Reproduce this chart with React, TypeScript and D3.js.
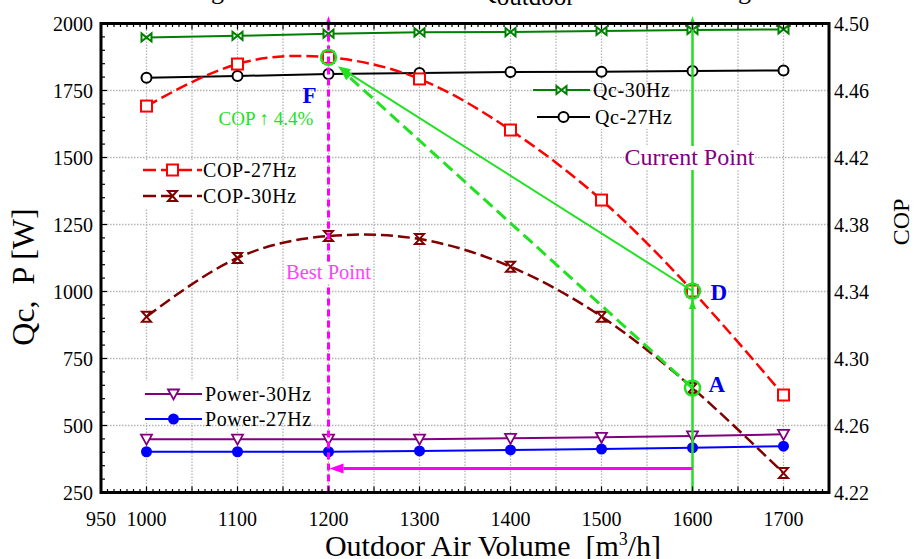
import React from "react";
import * as d3 from "d3";

// Outdoor air volume samples [m³/h]
const airVolume = [1000, 1100, 1200, 1300, 1400, 1500, 1600, 1700];
// Cooling capacity [W]
const qc30 = [1948, 1954, 1962, 1967, 1968, 1972, 1976, 1978];
const qc27 = [1798, 1804, 1812, 1815, 1819, 1820, 1823, 1825];
// Coefficient of performance
const cop27 = [4.4507, 4.4758, 4.4798, 4.4669, 4.4364, 4.3946, 4.3403, 4.2782];
const cop30 = [4.325, 4.36, 4.3731, 4.3713, 4.3548, 4.325, 4.2824, 4.2316];
// Power input [W]
const power30 = [449, 449, 449, 449, 452, 456, 461, 467];
const power27 = [402, 402, 402, 405, 409, 412, 417, 423];

const xTickLabels = [950, 1000, 1100, 1200, 1300, 1400, 1500, 1600, 1700];
const leftTickLabels = [250, 500, 750, 1000, 1250, 1500, 1750, 2000];
const rightTickLabels = [4.22, 4.26, 4.3, 4.34, 4.38, 4.42, 4.46, 4.5];

const bestVolume = 1200;
const currentVolume = 1600;
const shiftPower = 340; // level of the operating-point shift arrow [W]
const arrowTarget = { x: 1210, cop: 4.4745 };
const copGainText = "COP \u2191 4.4%";

const W = 915;
const H = 559;
const L = 101;
const R = 829;
const T = 23.5;
const B = 492.5;

const FONT = "'Liberation Serif', 'Times New Roman', serif";
const LIME = "#22e022";
const MAGENTA = "#ff00ff";

const x = d3.scaleLinear().domain([950, 1750]).range([L, R]);
const yL = d3.scaleLinear().domain([250, 2000]).range([B, T]);
const yR = d3.scaleLinear().domain([4.22, 4.5]).range([B, T]);

const arrowHead = (x1: number, y1: number, x2: number, y2: number, len = 12, hw = 4.5) => {
  const a = Math.atan2(y2 - y1, x2 - x1);
  const bx = x2 - len * Math.cos(a);
  const by = y2 - len * Math.sin(a);
  const px = -Math.sin(a) * hw;
  const py = Math.cos(a) * hw;
  return {
    d: `M${x2},${y2}L${bx + px},${by + py}L${bx - px},${by - py}Z`,
    bx,
    by,
  };
};

type MarkerKind = "square" | "hourglass" | "bowtie" | "circle" | "tri" | "dot";

const Marker = ({ kind, cx, cy, color }: { kind: MarkerKind; cx: number; cy: number; color: string }) => {
  const t = `translate(${cx},${cy})`;
  switch (kind) {
    case "square":
      return <rect x={cx - 5.5} y={cy - 5.5} width={11} height={11} fill="#fff" stroke={color} strokeWidth={2} />;
    case "hourglass":
      return <path transform={t} d="M-4.5,-5L4.5,-5L-4.5,5L4.5,5Z" fill="#fff" stroke={color} strokeWidth={2} />;
    case "bowtie":
      return <path transform={t} d="M-5,-4L-5,4L5,-4L5,4Z" fill="#fff" stroke={color} strokeWidth={2} />;
    case "circle":
      return <circle cx={cx} cy={cy} r={5} fill="#fff" stroke={color} strokeWidth={2} />;
    case "tri":
      return <path transform={t} d="M-5.5,-4.5L5.5,-4.5L0,5.5Z" fill="#fff" stroke={color} strokeWidth={1.8} />;
    case "dot":
      return <circle cx={cx} cy={cy} r={5.5} fill={color} />;
  }
  return null;
};

type Series = {
  name: string;
  values: number[];
  axis: "left" | "right";
  color: string;
  marker: MarkerKind;
  dash?: string;
  width: number;
  smooth: boolean;
};

const series: Series[] = [
  { name: "Power-27Hz", values: power27, axis: "left", color: "#0000ff", marker: "dot", width: 2, smooth: false },
  { name: "Power-30Hz", values: power30, axis: "left", color: "#800080", marker: "tri", width: 2, smooth: false },
  { name: "Qc-27Hz", values: qc27, axis: "left", color: "#000000", marker: "circle", width: 2, smooth: false },
  { name: "Qc-30Hz", values: qc30, axis: "left", color: "#008000", marker: "bowtie", width: 2, smooth: false },
  { name: "COP-30Hz", values: cop30, axis: "right", color: "#800000", marker: "hourglass", dash: "12,5", width: 2.5, smooth: true },
  { name: "COP-27Hz", values: cop27, axis: "right", color: "#ff0000", marker: "square", dash: "12,5", width: 2.5, smooth: true },
];

const legendGroups = [
  { box: [140, 160, 160, 48], items: [
    { name: "COP-27Hz", x0: 143, x1: 202, y: 170, tx: 203 },
    { name: "COP-30Hz", x0: 143, x1: 202, y: 196, tx: 203 },
  ] },
  { box: [530, 93, 150, 36], items: [
    { name: "Qc-30Hz", x0: 533, x1: 590, y: 90, tx: 593 },
    { name: "Qc-27Hz", x0: 537, x1: 590, y: 117, tx: 595 },
  ] },
  { box: [142, 381, 175, 42], items: [
    { name: "Power-30Hz", x0: 145, x1: 202, y: 394, tx: 205 },
    { name: "Power-27Hz", x0: 145, x1: 202, y: 419, tx: 205 },
  ] },
];

export default function App() {
  const yOf = (s: Series) => (s.axis === "left" ? yL : yR);

  // minor ticks on the horizontal axes: 7 per 50 m³/h
  const xMinor: number[] = [];
  for (let i = 0; i <= 16 * 7; i++) xMinor.push(950 + (i * 50) / 7);
  const yMinor = d3.range(250, 2001, 50);

  const fx = x(bestVolume);
  const cx = x(currentVolume);
  const fy = yR(cop27[airVolume.indexOf(bestVolume)]);
  const dy = yR(cop27[airVolume.indexOf(currentVolume)]);
  const ay = yR(cop30[airVolume.indexOf(currentVolume)]);
  const tx = x(arrowTarget.x);
  const ty = yR(arrowTarget.cop);

  const headD = arrowHead(cx, dy, tx, ty, 13, 4.5);
  const headA = arrowHead(cx, ay, tx + 2, ty + 2, 13, 4.5);
  const headUp = arrowHead(cx, ay, cx, dy + 8, 10, 3.5);
  const headGreenTop = arrowHead(cx, B, cx, 16, 9, 3);
  const headMagTop = arrowHead(fx, B, fx, 16, 9, 3);
  const sy = yL(shiftPower);
  const headShift = arrowHead(cx, sy, fx + 1, sy, 14, 5);

  const pre = { whiteSpace: "pre" as const };

  return (
    <svg width={W} height={H} style={{ position: "absolute", left: 0, top: 0, background: "#fff" }} fontFamily={FONT}>
      <rect x={0} y={0} width={W} height={H} fill="#fff" />

      {/* title line, largely above the visible area */}
      <g fill="#000" fontSize={26}>
        <text x={224} y={-1} textAnchor="end">Effect on Cooling</text>
        <text x={478} y={-1}>
          Q<tspan fontSize={25} dy={6}>outdoor</tspan>
        </text>
        <text x={751} y={-1} textAnchor="end">Setting</text>
      </g>

      {/* grid */}
      <g stroke="#b4b4b4" strokeWidth={1.3} strokeDasharray="1.5,1.5">
        {d3.range(1000, 1701, 50).map((v) => (
          <line key={"gx" + v} x1={x(v)} x2={x(v)} y1={T} y2={B} />
        ))}
        {d3.range(500, 1751, 250).map((v) => (
          <line key={"gy" + v} x1={L} x2={R} y1={yL(v)} y2={yL(v)} />
        ))}
      </g>

      {/* legend backgrounds */}
      {legendGroups.map((g, i) => (
        <rect key={"lb" + i} x={g.box[0]} y={g.box[1]} width={g.box[2]} height={g.box[3]} fill="#fff" />
      ))}

      {/* series lines */}
      {series.map((s) => {
        const line = d3
          .line<number>()
          .x((_, i) => x(airVolume[i]))
          .y((v) => yOf(s)(v))
          .curve(s.smooth ? d3.curveNatural : d3.curveLinear);
        return (
          <path key={s.name} d={line(s.values) || ""} fill="none" stroke={s.color} strokeWidth={s.width} strokeDasharray={s.dash} />
        );
      })}

      {/* series markers */}
      {series.map((s) =>
        s.values.map((v, i) => (
          <Marker key={s.name + i} kind={s.marker} cx={x(airVolume[i])} cy={yOf(s)(v)} color={s.color} />
        ))
      )}

      {/* best point: dashed vertical */}
      <line x1={fx} x2={fx} y1={B} y2={headMagTop.by} stroke={MAGENTA} strokeWidth={3} strokeDasharray="7,4" />
      <path d={headMagTop.d} fill={MAGENTA} />

      {/* current point: vertical line */}
      <line x1={cx} x2={cx} y1={B} y2={headGreenTop.by} stroke={LIME} strokeWidth={2.5} />
      <path d={headGreenTop.d} fill={LIME} />
      <path d={headUp.d} fill={LIME} />

      {/* shift arrow from current to best volume */}
      <line x1={cx} x2={headShift.bx} y1={sy} y2={sy} stroke={MAGENTA} strokeWidth={3} />
      <path d={headShift.d} fill={MAGENTA} />

      {/* paths from D and A towards F */}
      <line x1={cx} y1={dy} x2={headD.bx} y2={headD.by} stroke={LIME} strokeWidth={2} />
      <path d={headD.d} fill={LIME} />
      <line x1={cx} y1={ay} x2={headA.bx} y2={headA.by} stroke={LIME} strokeWidth={3} strokeDasharray="12,6" />
      <path d={headA.d} fill={LIME} />

      {/* highlighted operating points */}
      {[fy, dy, ay].map((yy, i) => (
        <circle key={"hp" + i} cx={i === 0 ? fx : cx} cy={yy} r={7.5} fill="none" stroke={LIME} strokeWidth={2.5} />
      ))}

      {/* annotation texts */}
      <g fontWeight="bold" fill="#0000ee" fontSize={23}>
        <text x={fx - 26} y={fy + 46}>F</text>
        <text x={cx + 18} y={dy + 9}>D</text>
        <text x={cx + 16} y={ay + 4}>A</text>
      </g>
      <text x={fx - 110} y={fy + 68} fontSize={19} fill={LIME}>{copGainText}</text>

      <rect x={fx - 44} y={262} width={88} height={22} fill="#fff" />
      <text x={fx} y={279} textAnchor="middle" fontSize={20.5} fill="#ff40ff">Best Point</text>

      <rect x={cx - 68} y={146} width={130} height={24} fill="#fff" />
      <text x={cx - 68} y={165} fontSize={24} fill="#800080">Current Point</text>

      {/* legends */}
      {legendGroups.map((g) =>
        g.items.map((it) => {
          const s = series.find((q) => q.name === it.name)!;
          const mx = (it.x0 + it.x1) / 2;
          return (
            <g key={"lg" + it.name}>
              <line x1={it.x0} x2={it.x1} y1={it.y} y2={it.y} stroke={s.color} strokeWidth={s.width}
                strokeDasharray={s.dash ? "13,5" : undefined} />
              <Marker kind={s.marker} cx={mx} cy={it.y} color={s.color} />
              <text x={it.tx} y={it.y + 7} fontSize={20} letterSpacing={0.6} fill="#000">{it.name}</text>
            </g>
          );
        })
      )}

      {/* axis ticks */}
      <g stroke="#000" strokeWidth={1.2}>
        {xMinor.map((v, i) => (
          <g key={"xt" + i}>
            <line x1={x(v)} x2={x(v)} y1={B} y2={B - (i % 7 === 0 ? 6 : 3.5)} />
            <line x1={x(v)} x2={x(v)} y1={T} y2={T + (i % 7 === 0 ? 6 : 3.5)} />
          </g>
        ))}
        {yMinor.map((v) => (
          <line key={"yt" + v} x1={L} x2={L + (v % 250 === 0 ? 6 : 4)} y1={yL(v)} y2={yL(v)} />
        ))}
      </g>

      {/* frame */}
      <rect x={L} y={T} width={R - L} height={B - T} fill="none" stroke="#000" strokeWidth={3} />

      {/* tick labels */}
      <g fontSize={20} fill="#000">
        {xTickLabels.map((v) => (
          <text key={"xl" + v} x={x(v)} y={525.5} textAnchor="middle">{v}</text>
        ))}
        {leftTickLabels.map((v) => (
          <text key={"ll" + v} x={93} y={yL(v) + 7} textAnchor="end">{v}</text>
        ))}
        {rightTickLabels.map((v) => (
          <text key={"rl" + v} x={834} y={yR(v) + 7}>{v.toFixed(2)}</text>
        ))}
      </g>

      {/* axis titles */}
      <text x={493} y={556} textAnchor="middle" fontSize={30} fill="#000" style={pre}>
        {"Outdoor Air Volume  [m"}<tspan fontSize={18} dy={-11}>3</tspan><tspan dy={11}>/h]</tspan>
      </text>
      <text transform="translate(34,277) rotate(-90)" textAnchor="middle" fontSize={32} fill="#000" style={pre}>
        {"Qc,  P [W]"}
      </text>
      <text transform="translate(909,222) rotate(-90)" textAnchor="middle" fontSize={24} fill="#000">COP</text>
    </svg>
  );
}
